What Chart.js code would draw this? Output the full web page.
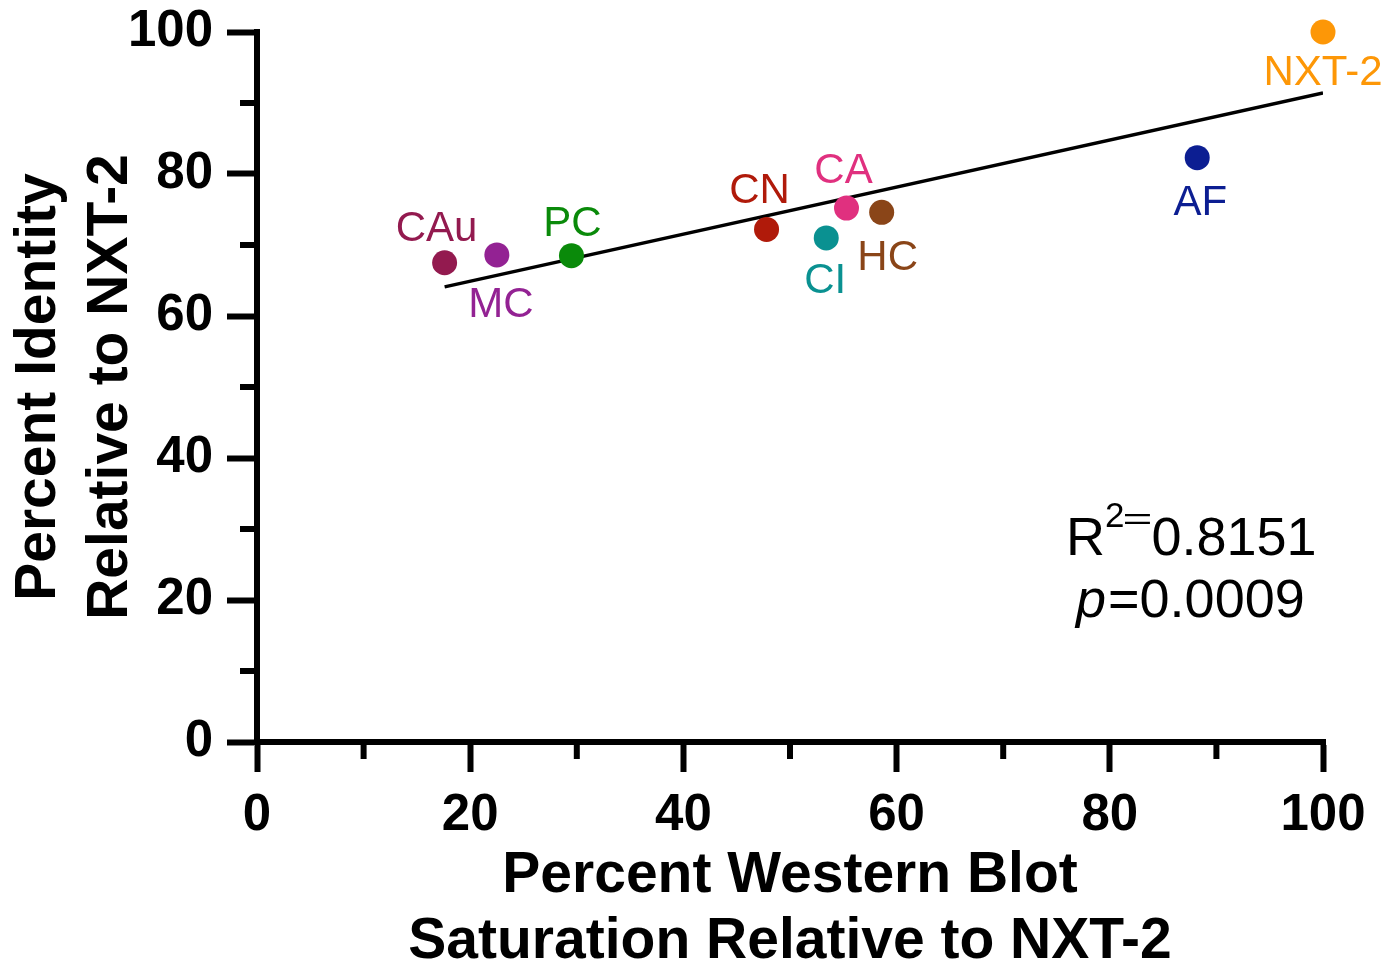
<!DOCTYPE html>
<html>
<head>
<meta charset="utf-8">
<script src="https://cdn.jsdelivr.net/npm/chart.js@4/dist/chart.umd.min.js"></script>
<style>
  html, body { margin: 0; padding: 0; background: #fff; }
  #wrap { width: 1391px; height: 972px; }
</style>
</head>
<body>
<div id="wrap"><canvas id="c" width="1391" height="972"></canvas></div>
<script>
// Strains and their measured values
const strains = ['CAu', 'MC', 'PC', 'CN', 'CI', 'CA', 'HC', 'AF', 'NXT-2'];
const blotSaturation = [17.6, 22.5, 29.5, 47.8, 53.4, 55.3, 58.6, 88.2, 100];
const percentIdentity = [67.5, 68.6, 68.5, 72.2, 71.0, 75.2, 74.6, 82.3, 100];
const strainColors = ['#931a4f', '#932293', '#0a8a0a', '#b01a0a', '#0a9191', '#e0307f', '#8a4518', '#0c1e92', '#fd9707'];

// Linear fit endpoints
const fitX = [17.6, 100];
const fitY = [64.1, 91.4];

// Fit statistics
const rSquared = '0.8151';
const pValue = '0.0009';

// Axis range and tick spacing (labelled every 20, minor every 10)
const axisMin = 0, axisMax = 100, tickStep = 10, labelStep = 20;

// Where each strain name sits relative to its dot (dx, dy of the text baseline)
const labelPlacement = {
  'CAu': [-8, -22], 'MC': [4, 62], 'PC': [1, -20], 'CN': [-7, -26], 'CI': [-1, 55],
  'CA': [-3, -25], 'HC': [6, 58], 'AF': [3, 57], 'NXT-2': [0, 53]
};

const FONT = 'Liberation Sans, Arial, Helvetica, sans-serif';
const AXIS_W = 6;

const pointData = blotSaturation.map((x, i) => ({ x, y: percentIdentity[i] }));
const fitData = fitX.map((x, i) => ({ x, y: fitY[i] }));

const isMajor = v => v % labelStep === 0;

// Short minor ticks between the labelled ones
const minorTicks = {
  id: 'minorTicks',
  afterDraw(chart) {
    const { ctx, scales: { x, y } } = chart;
    ctx.save();
    ctx.strokeStyle = '#000';
    ctx.lineWidth = AXIS_W;
    ctx.lineCap = 'butt';
    x.ticks.filter(t => !isMajor(t.value)).forEach(t => {
      const px = x.getPixelForValue(t.value);
      ctx.beginPath(); ctx.moveTo(px, x.top); ctx.lineTo(px, x.top + 17); ctx.stroke();
    });
    y.ticks.filter(t => !isMajor(t.value)).forEach(t => {
      const py = y.getPixelForValue(t.value);
      ctx.beginPath(); ctx.moveTo(y.right, py); ctx.lineTo(y.right - 17, py); ctx.stroke();
    });
    // square off the axis corners
    const ca = chart.chartArea;
    ctx.fillStyle = '#000';
    ctx.fillRect(ca.left - AXIS_W / 2, ca.top - AXIS_W / 2, AXIS_W, AXIS_W);
    ctx.fillRect(ca.right - AXIS_W / 2, ca.bottom - AXIS_W / 2, AXIS_W, AXIS_W);
    ctx.restore();
  }
};

// Coloured strain names next to the dots
const pointNames = {
  id: 'pointNames',
  afterDatasetsDraw(chart) {
    const { ctx } = chart;
    const meta = chart.getDatasetMeta(0);
    ctx.save();
    ctx.font = '42px ' + FONT;
    ctx.textAlign = 'center';
    ctx.textBaseline = 'alphabetic';
    meta.data.forEach((pt, i) => {
      const [dx, dy] = labelPlacement[strains[i]];
      ctx.fillStyle = strainColors[i];
      ctx.fillText(strains[i], pt.x + dx, pt.y + dy);
    });
    ctx.restore();
  }
};

// R² and p value block
const fitStats = {
  id: 'fitStats',
  afterDraw(chart) {
    const { ctx, chartArea } = chart;
    const main = '54px ' + FONT, sup = '35px ' + FONT, ital = 'italic 54px ' + FONT;
    ctx.save();
    ctx.fillStyle = '#000';
    ctx.textAlign = 'left';
    ctx.textBaseline = 'alphabetic';

    // line 1: R^2=0.8151
    const y1 = chartArea.bottom - 187;
    let x0 = chartArea.right - 257;
    ctx.font = main; const wR = ctx.measureText('R').width;
    ctx.fillText('R', x0, y1);
    x0 += wR;
    ctx.font = sup; const w2 = ctx.measureText('2').width;
    ctx.fillText('2', x0, y1 - 28);
    x0 += w2;
    // flattened equals sign riding at superscript height
    ctx.save();
    ctx.font = main;
    const wEq = ctx.measureText('=').width;
    ctx.translate(x0 - 2, y1 - 34);
    ctx.scale(0.95, 0.55);
    ctx.textBaseline = 'middle';
    ctx.fillText('=', 0, 0);
    ctx.restore();
    x0 += wEq * 0.95 - 3;
    ctx.font = main; ctx.fillText(rSquared, x0, y1);

    // line 2: p=0.0009
    const y2 = chartArea.bottom - 125;
    x0 = chartArea.right - 247;
    ctx.font = ital; const wP = ctx.measureText('p').width;
    ctx.fillText('p', x0, y2);
    ctx.font = main; ctx.fillText('=' + pValue, x0 + wP + 2, y2);
    ctx.restore();
  }
};

const tickFont = { family: FONT, size: 51, weight: 'bold' };

new Chart(document.getElementById('c'), {
  type: 'scatter',
  data: {
    datasets: [
      {
        data: pointData,
        pointBackgroundColor: strainColors,
        pointBorderWidth: 0,
        pointRadius: 12.5,
        pointHoverRadius: 12.5,
        clip: false,
        order: 0
      },
      {
        type: 'line',
        data: fitData,
        borderColor: '#000',
        borderWidth: 3.5,
        pointRadius: 0,
        fill: false,
        order: 1
      }
    ]
  },
  options: {
    responsive: false,
    animation: false,
    devicePixelRatio: 1,
    layout: { padding: { top: 32, right: 68, left: 0, bottom: 0 } },
    plugins: { legend: { display: false }, tooltip: { enabled: false } },
    scales: {
      x: {
        type: 'linear',
        min: axisMin, max: axisMax,
        border: { display: true, color: '#000', width: AXIS_W },
        grid: {
          drawOnChartArea: false, drawTicks: true, tickLength: 30,
          tickWidth: AXIS_W,
          tickColor: c => isMajor(c.tick.value) ? '#000' : 'rgba(0,0,0,0)'
        },
        ticks: {
          stepSize: tickStep, autoSkip: false, maxRotation: 0, padding: 13,
          color: '#000', font: tickFont,
          callback: v => isMajor(v) ? String(v) : ''
        },
        title: {
          display: true,
          text: ['Percent Western Blot', 'Saturation Relative to NXT-2'],
          color: '#000',
          font: { family: FONT, size: 57, weight: 'bold', lineHeight: 1.16 },
          padding: { top: 0, bottom: -3 }
        },
        afterFit: s => { s.height = 230; s.paddingLeft = 0; s.paddingRight = 0; }
      },
      y: {
        type: 'linear',
        min: axisMin, max: axisMax,
        border: { display: true, color: '#000', width: AXIS_W },
        grid: {
          drawOnChartArea: false, drawTicks: true, tickLength: 30,
          tickWidth: AXIS_W,
          tickColor: c => isMajor(c.tick.value) ? '#000' : 'rgba(0,0,0,0)'
        },
        ticks: {
          stepSize: tickStep, autoSkip: false, padding: 14,
          color: '#000', font: tickFont,
          callback: v => isMajor(v) ? String(v) : ''
        },
        title: {
          display: true,
          text: ['Percent Identity', 'Relative to NXT-2'],
          color: '#000',
          font: { family: FONT, size: 57, weight: 'bold', lineHeight: 1.25 },
          padding: { top: 4, bottom: 0 }
        },
        afterFit: s => { s.width = 257; s.paddingTop = 0; s.paddingBottom = 0; }
      }
    }
  },
  plugins: [minorTicks, pointNames, fitStats]
});
</script>
</body>
</html>
